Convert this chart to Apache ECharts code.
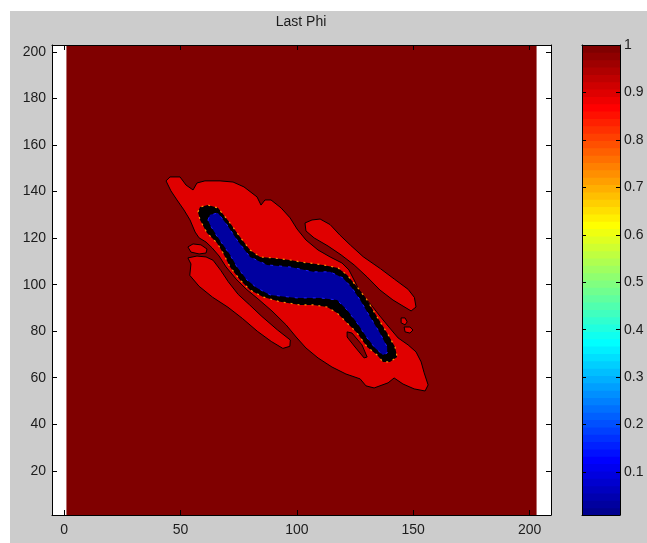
<!DOCTYPE html>
<html>
<head>
<meta charset="utf-8">
<script src="https://cdn.jsdelivr.net/npm/echarts@6/dist/echarts.min.js"></script>
<style>
html,body{margin:0;padding:0;background:#fff;}
#bg{position:absolute;left:10px;top:11px;width:637px;height:532px;background:#cccccc;}
#chart{position:absolute;left:0;top:0;width:647px;height:543px;}
</style>
</head>
<body>
<div id="bg"></div>
<div id="chart"></div>
<script>
// ---------- data (in data coordinates) ----------
const titleText = 'Last Phi';
const xTicks = [0, 50, 100, 150, 200];
const yTicks = [20, 40, 60, 80, 100, 120, 140, 160, 180, 200];
const cbarTicks = [0.1, 0.2, 0.3, 0.4, 0.5, 0.6, 0.7, 0.8, 0.9, 1];
const cbarMin = 0.0093, cbarMax = 1;
const xMin = -5.2, xMax = 209.2, yMin = 1, yMax = 203;

// phi ~ 1 everywhere on the grid
const fieldBounds = [[1,1],[203,1],[203,203],[1,203]];
// phi ~ 0.9 contour regions
const ringMain = [[43.8,144.6],[45.5,146.3],[49.8,146.3],[52.4,142.8],[55.4,140.7],[57.1,143.7],[60.5,144.6],[67.0,144.6],[72.6,144.1],[77.3,142.0],[82.9,137.7],[84.6,134.2],[86.3,136.4],[88.9,136.4],[93.2,133.0],[97.1,128.7],[100.1,123.9],[103.9,119.2],[109.1,114.9],[114.3,111.9],[119.4,109.3],[122.4,106.3],[124.6,102.0],[126.7,97.7],[129.3,94.3],[132.3,90.8],[135.7,86.5],[139.2,82.2],[143.5,77.1],[147.8,74.1],[151.2,71.1],[153.4,66.8],[154.7,62.1],[156.4,56.9],[155.1,54.3],[150.4,55.2],[145.6,57.3],[141.8,59.9],[139.2,57.8],[133.2,55.6],[129.7,56.5],[127.2,59.5],[121.1,61.6],[115.1,64.6],[109.1,68.5],[103.9,72.8],[99.7,77.5],[95.4,82.7],[89.3,88.7],[83.3,93.9],[78.2,98.1],[73.9,102.4],[69.6,107.6],[66.6,112.3],[63.6,115.8],[61.0,118.3],[58.0,120.1],[56.3,122.6],[54.1,127.8],[51.5,132.1],[48.5,136.4],[45.9,140.3]];
const lobeLowerLeft = [[53.2,111.5],[54.5,108.9],[54.0,104.0],[58.0,99.3],[63.8,94.6],[70.4,90.3],[76.6,85.5],[83.0,80.0],[89.0,75.6],[94.0,72.6],[97.0,73.5],[97.2,76.2],[91.6,80.6],[85.0,86.3],[79.6,91.4],[74.8,95.8],[70.5,101.3],[67.4,106.0],[64.0,110.5],[61.0,111.9],[57.1,112.3]];
const lobeUpperRight = [[106.5,127.8],[103.5,126.5],[103.9,123.1],[107.4,120.1],[113.4,116.6],[119.0,112.8],[124.6,108.5],[130.2,103.3],[135.7,97.7],[141.3,93.4],[145.6,90.8],[149.1,88.7],[151.2,90.4],[150.5,94.5],[147.8,98.0],[142.0,102.3],[136.0,106.8],[128.5,112.0],[123.0,117.0],[118.5,121.3],[114.3,125.8],[110.0,128.2]];
const islandLeft = [[53.2,116.2],[55.4,117.5],[58.8,117.1],[61.4,115.3],[61.0,113.6],[58.0,113.2],[54.5,114.0]];
const islandRight1 = [[144.8,85.7],[146.5,85.7],[147.4,84.0],[146.5,82.7],[144.8,83.6]];
const islandRight2 = [[146.1,81.8],[148.6,81.8],[149.9,80.5],[148.6,79.2],[146.5,79.7]];
const gapSliver = [[121.6,79.7],[123.7,79.2],[128.0,74.1],[130.2,68.9],[128.9,68.5],[125.0,73.2],[121.6,77.5]];
// steep transition band (dense contours) around the phi ~ 0 core
const transitionBand = [[57.5,131.2],[58.4,133.4],[61.8,134.2],[66.1,133.0],[71.3,126.5],[75.6,120.5],[79.9,114.9],[84.2,111.9],[89.8,111.5],[97.1,110.6],[101.4,109.8],[111.3,108.5],[117.7,107.2],[121.6,104.2],[125.9,99.0],[130.2,93.4],[134.5,86.1],[138.8,79.2],[142.2,73.2],[143.1,68.9],[140.0,66.8],[137.0,66.8],[134.5,69.8],[130.2,73.2],[125.9,79.2],[121.6,83.5],[117.3,87.8],[113.0,90.4],[107.0,91.3],[101.4,91.3],[92.8,92.6],[85.5,94.7],[79.9,97.7],[75.6,102.0],[71.3,107.6],[68.3,113.6],[65.7,117.9],[61.4,122.2],[58.4,127.8]];
// phi ~ 0.05 core
const coreLow = [[61.8,127.8],[62.7,130.0],[66.1,130.8],[70.0,125.7],[74.3,119.2],[79.9,111.9],[87.2,108.5],[97.1,107.6],[107.0,105.5],[114.3,105.5],[119.8,102.9],[123.7,98.6],[127.2,93.4],[131.5,86.1],[135.7,79.2],[138.8,73.2],[138.8,70.6],[137.0,69.8],[133.6,72.8],[130.2,77.1],[125.9,83.5],[121.6,89.1],[117.3,93.4],[110.0,94.3],[100.1,94.3],[88.5,95.6],[82.9,98.6],[78.6,102.0],[74.3,107.6],[71.3,112.8],[68.3,117.1],[65.3,121.4],[62.7,125.7]];

// ---------- styles ----------
const C_DARK = '#800000', C_RED = '#e00000', C_BLUE = '#0000a0';
const layers = [
  {pts: fieldBounds, fill: C_DARK, stroke: null, lw: 0},
  {pts: ringMain, fill: C_RED, stroke: '#000', lw: 1},
  {pts: lobeLowerLeft, fill: C_RED, stroke: '#000', lw: 1},
  {pts: lobeUpperRight, fill: C_RED, stroke: '#000', lw: 1},
  {pts: islandLeft, fill: C_RED, stroke: '#000', lw: 1},
  {pts: islandRight1, fill: C_RED, stroke: '#000', lw: 1},
  {pts: islandRight2, fill: C_RED, stroke: '#000', lw: 1},
  {pts: gapSliver, fill: C_DARK, stroke: '#000', lw: 1},
  {pts: transitionBand, fill: '#000', stroke: '#ff8c00', lw: 1.2, dash: [2, 5]},
  {pts: coreLow, fill: C_BLUE, stroke: '#1a1aff', lw: 1, dash: [3, 6]}
];

function jet(i, m) { // i: 0..m-1
  const n = Math.ceil(m / 4);
  const u = [];
  for (let k = 1; k <= n; k++) u.push(k / n);
  for (let k = 1; k < n; k++) u.push(1);
  for (let k = n; k >= 1; k--) u.push(k / n);
  const off = Math.ceil(n / 2) - (m % 4 === 1 ? 1 : 0);
  const idx = i + 1;
  function ch(shift) { const k = idx - off - shift; return (k >= 1 && k <= u.length) ? u[k - 1] : 0; }
  const r = ch(n), g = ch(0), b = ch(-n);
  return 'rgb(' + Math.round(r * 255) + ',' + Math.round(g * 255) + ',' + Math.round(b * 255) + ')';
}
const nLevels = 64;
const cbarBands = [];
for (let i = 0; i < nLevels; i++) cbarBands.push(i);

const FONT = "'Liberation Sans', Arial, Helvetica, sans-serif";
const TXT = '#1c1c1c';

const chart = echarts.init(document.getElementById('chart'), null, {renderer: 'canvas'});

function axisBase(extra) {
  return Object.assign({
    type: 'value',
    axisLine: {show: true, onZero: false, lineStyle: {color: '#000', width: 1}},
    splitLine: {show: false},
    z: 10
  }, extra);
}
const tickStyle = {color: '#000', width: 1};
const labelStyle = {color: TXT, fontSize: 14, fontFamily: FONT};

const option = {
  backgroundColor: 'transparent',
  animation: false,
  graphic: [{
    type: 'text', x: 301, y: 22,
    style: {text: titleText, fill: TXT, font: '14px ' + FONT, textAlign: 'center', textVerticalAlign: 'middle'}
  }],
  grid: [
    {left: 52, top: 45, width: 499, height: 470, show: true, backgroundColor: '#ffffff', borderWidth: 0},
    {left: 582, top: 45, width: 38, height: 470, show: true, backgroundColor: '#ffffff', borderWidth: 0}
  ],
  xAxis: [
    axisBase({gridIndex: 0, min: xMin, max: xMax, position: 'bottom',
      axisTick: {inside: true, length: 5, customValues: xTicks, lineStyle: tickStyle},
      axisLabel: Object.assign({customValues: xTicks, margin: 8}, labelStyle)}),
    axisBase({gridIndex: 0, min: xMin, max: xMax, position: 'top',
      axisTick: {inside: true, length: 5, customValues: xTicks, lineStyle: tickStyle},
      axisLabel: {show: false}}),
    axisBase({gridIndex: 1, min: 0, max: 1, position: 'bottom', axisTick: {show: false}, axisLabel: {show: false}}),
    axisBase({gridIndex: 1, min: 0, max: 1, position: 'top', axisTick: {show: false}, axisLabel: {show: false}})
  ],
  yAxis: [
    axisBase({gridIndex: 0, min: yMin, max: yMax, position: 'left',
      axisTick: {inside: true, length: 5, customValues: yTicks, lineStyle: tickStyle},
      axisLabel: Object.assign({customValues: yTicks, margin: 6}, labelStyle)}),
    axisBase({gridIndex: 0, min: yMin, max: yMax, position: 'right',
      axisTick: {inside: true, length: 5, customValues: yTicks, lineStyle: tickStyle},
      axisLabel: {show: false}}),
    axisBase({gridIndex: 1, min: cbarMin, max: cbarMax, position: 'left',
      axisTick: {inside: true, length: 4, customValues: cbarTicks, lineStyle: tickStyle},
      axisLabel: {show: false}}),
    axisBase({gridIndex: 1, min: cbarMin, max: cbarMax, position: 'right',
      axisTick: {inside: true, length: 4, customValues: cbarTicks, lineStyle: tickStyle},
      axisLabel: Object.assign({customValues: cbarTicks, margin: 4,
        formatter: function (v) { return v >= 0.999 ? '1' : v.toFixed(1); }}, labelStyle)})
  ],
  series: [
    {
      type: 'custom', xAxisIndex: 0, yAxisIndex: 0, clip: true,
      data: layers.map(function (l) { return l.pts[0]; }),
      renderItem: function (params, api) {
        const L = layers[params.dataIndex];
        const pts = L.pts.map(function (p) { return api.coord(p); });
        return {
          type: 'polygon',
          shape: {points: pts},
          style: {fill: L.fill, stroke: L.stroke || null, lineWidth: L.lw, lineDash: L.dash || null}
        };
      }
    },
    {
      type: 'custom', xAxisIndex: 2, yAxisIndex: 2, clip: true,
      data: cbarBands.map(function (i) { return [0, i]; }),
      renderItem: function (params, api) {
        const i = api.value(1);
        const d = (cbarMax - cbarMin) / nLevels;
        const p0 = api.coord([0, cbarMin + i * d]);
        const p1 = api.coord([1, cbarMin + (i + 1) * d]);
        return {
          type: 'rect',
          shape: {x: p0[0], y: p1[1] - 0.5, width: p1[0] - p0[0], height: p0[1] - p1[1] + 1},
          style: {fill: jet(i, nLevels)}
        };
      }
    }
  ]
};
chart.setOption(option);
</script>
</body>
</html>
